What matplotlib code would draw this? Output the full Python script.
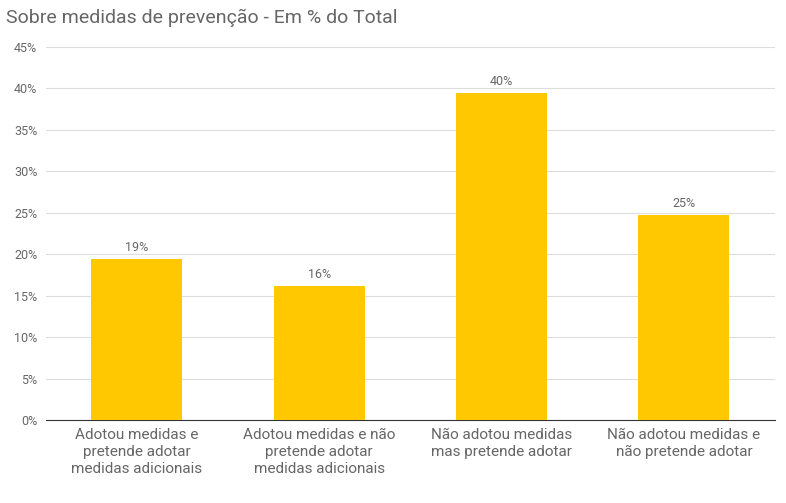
import matplotlib.pyplot as plt

categorias = ['Adotou medidas e\npretende adotar\nmedidas adicionais',
              'Adotou medidas e não\npretende adotar\nmedidas adicionais',
              'Não adotou medidas\nmas pretende adotar',
              'Não adotou medidas e\nnão pretende adotar']
valores = [19.4, 16.2, 39.4, 24.7]
rotulos = ['19%', '16%', '40%', '25%']
ticks = [0, 5, 10, 15, 20, 25, 30, 35, 40, 45]

plt.rcParams['font.family'] = ['Roboto', 'DejaVu Sans']

fig = plt.figure(figsize=(7.86, 5.03), dpi=100)
ax = fig.add_axes([0.058, 0.165, 0.928, 0.742])

x = range(len(categorias))
barras = ax.bar(x, valores, width=0.5, color='#ffc800', zorder=3)

for barra, r in zip(barras, rotulos):
    ax.text(barra.get_x() + barra.get_width() / 2, barra.get_height() + 0.6, r,
            ha='center', va='bottom', fontsize=9, color='#666666')

ax.set_ylim(0, 45)
ax.set_xlim(-0.5, 3.5)
ax.set_yticks(ticks)
ax.set_yticklabels([f'{t}%' for t in ticks], fontsize=9, color='#666666')
ax.set_xticks(list(x))
ax.set_xticklabels(categorias, fontsize=11, color='#666666', linespacing=1.25)
ax.tick_params(length=0, pad=6)
ax.grid(axis='y', color='#dddddd', linewidth=0.8, zorder=0)
for s in ['top', 'right', 'left']:
    ax.spines[s].set_visible(False)
ax.spines['bottom'].set_color('#333333')

fig.text(0.008, 0.965, 'Sobre medidas de prevenção - Em % do Total', fontsize=14,
         color='#666666', va='center', ha='left')

fig.savefig('out.png', dpi=100)
